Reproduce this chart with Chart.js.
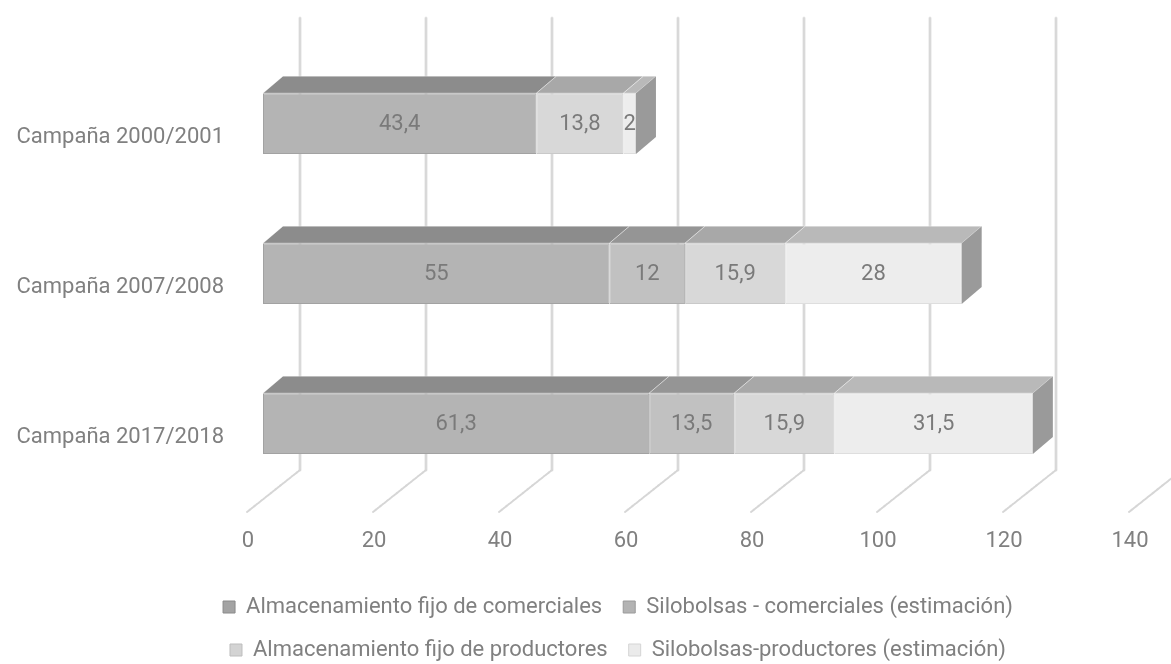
<!DOCTYPE html>
<html>
<head>
<meta charset="utf-8">
<script src="https://cdn.jsdelivr.net/npm/chart.js@4.4.1/dist/chart.umd.min.js"></script>
<style>
  html, body { margin: 0; padding: 0; background: #ffffff; }
  #wrap { width: 1171px; height: 664px; position: relative; }
</style>
</head>
<body>
<div id="wrap"><canvas id="c"></canvas></div>
<script>
// ---- data ----
const categories = ['Campaña 2000/2001', 'Campaña 2007/2008', 'Campaña 2017/2018'];
const seriesNames = [
  'Almacenamiento fijo de comerciales',
  'Silobolsas - comerciales (estimación)',
  'Almacenamiento fijo de productores',
  'Silobolsas-productores (estimación)'
];
const fijoComerciales = [43.4, 55, 61.3];
const siloComerciales = [null, 12, 13.5];
const fijoProductores = [13.8, 15.9, 15.9];
const siloProductores = [2, 28, 31.5];
const xTickValues = [0, 20, 40, 60, 80, 100, 120, 140];

// ---- styles ----
const FONT = 'Roboto';
const TEXT = '#808080';
const frontColors = ['#b4b4b4', '#c1c1c1', '#d8d8d8', '#ededed'];
const frontBorders = ['#a2a2a2', '#afafaf', '#c9c9c9', '#dedede'];
const topColors = ['#8c8c8c', '#959595', '#a8a8a8', '#b9b9b9'];
const legendFill = ['#a3a3a3', '#b3b3b3', '#d3d3d3', '#ebebeb'];
const legendStroke = ['#8a8a8a', '#9a9a9a', '#bdbdbd', '#d5d5d5'];
const SIDE = '#9a9a9a';
const DX = 20, DY = 17;      // bar depth
const WALL = 37;             // back wall offset

const seriesData = [fijoComerciales, siloComerciales, fijoProductores, siloProductores];

function fmt(v) { return String(v).replace('.', ','); }

const wallPlugin = {
  id: 'wall',
  beforeDatasetsDraw(chart) {
    const ctx = chart.ctx;
    const xs = chart.scales.x;
    ctx.save();
    xTickValues.forEach(v => {
      const xb = xs.getPixelForValue(v) + WALL;
      ctx.lineCap = 'round';
      ctx.strokeStyle = '#e4e4e4';
      ctx.lineWidth = 3;
      ctx.beginPath(); ctx.moveTo(xb, 18); ctx.lineTo(xb, 470); ctx.stroke();
      ctx.strokeStyle = '#cdcdcd';
      ctx.lineWidth = 1;
      ctx.beginPath(); ctx.moveTo(xb, 18); ctx.lineTo(xb, 470); ctx.stroke();
      ctx.strokeStyle = '#d6d6d6';
      ctx.lineWidth = 2;
      ctx.setLineDash([2, 1]);
      ctx.beginPath(); ctx.moveTo(xb, 470); ctx.lineTo(xb - 53, 512); ctx.stroke();
      ctx.setLineDash([]);
    });
    ctx.restore();
  }
};

const bar3dPlugin = {
  id: 'bar3d',
  afterDatasetsDraw(chart) {
    const ctx = chart.ctx;
    ctx.save();
    for (let i = 0; i < categories.length; i++) {
      let last = null;
      chart.data.datasets.forEach((ds, d) => {
        const v = ds.data[i];
        if (v === null || v === undefined) return;
        const el = chart.getDatasetMeta(d).data[i];
        const p = el.getProps(['x', 'base', 'y', 'height'], true);
        const x0 = Math.min(p.x, p.base), x1 = Math.max(p.x, p.base);
        const yt = p.y - p.height / 2;
        ctx.fillStyle = topColors[d];
        ctx.beginPath();
        ctx.moveTo(x0, yt); ctx.lineTo(x1, yt);
        ctx.lineTo(x1 + DX, yt - DY); ctx.lineTo(x0 + DX, yt - DY);
        ctx.closePath(); ctx.fill();
        ctx.strokeStyle = 'rgba(255,255,255,0.35)';
        ctx.lineWidth = 1;
        ctx.stroke();
        last = {x1, yt, yb: p.y + p.height / 2};
      });
      if (last) {
        ctx.fillStyle = SIDE;
        ctx.beginPath();
        ctx.moveTo(last.x1, last.yt); ctx.lineTo(last.x1 + DX, last.yt - DY);
        ctx.lineTo(last.x1 + DX, last.yb - DY); ctx.lineTo(last.x1, last.yb);
        ctx.closePath(); ctx.fill();
      }
    }
    ctx.font = '22px ' + FONT;
    ctx.fillStyle = '#7a7a7a';
    ctx.textAlign = 'center';
    ctx.textBaseline = 'middle';
    chart.data.datasets.forEach((ds, d) => {
      const meta = chart.getDatasetMeta(d);
      ds.data.forEach((v, i) => {
        if (v === null || v === undefined) return;
        const p = meta.data[i].getProps(['x', 'base', 'y'], true);
        ctx.fillText(fmt(v), (p.x + p.base) / 2, p.y + 1);
      });
    });
    ctx.restore();
  }
};

new Chart(document.getElementById('c'), {
  type: 'bar',
  data: {
    labels: categories,
    datasets: seriesData.map((arr, d) => ({
      label: seriesNames[d],
      data: arr,
      backgroundColor: frontColors[d],
      borderColor: frontBorders[d],
      borderWidth: 1,
      borderSkipped: false,
      categoryPercentage: 0.405,
      barPercentage: 1.0
    }))
  },
  options: {
    indexAxis: 'y',
    responsive: true,
    maintainAspectRatio: false,
    animation: false,
    layout: { padding: { left: 91, right: 26, top: 48.5, bottom: -7 } },
    scales: {
      x: {
        stacked: true,
        min: 0, max: 140,
        afterBuildTicks(scale) { scale.ticks = xTickValues.map(v => ({ value: v })); },
        afterFit(scale) { scale.height = 76.5; scale.paddingLeft = 0; scale.paddingRight = 0; },
        grid: { display: false, drawTicks: false },
        border: { display: false },
        ticks: {
          font: { family: FONT, size: 22 },
          color: TEXT,
          padding: 30,
          labelOffset: -15,
          maxRotation: 0,
          autoSkip: false
        }
      },
      y: {
        stacked: true,
        afterFit(scale) {
          scale.width = 172;
          scale.paddingTop = 0;
          scale.paddingBottom = 0;
          scale._computeLabelArea = () => null;  // let labels extend past the axis box
        },
        grid: { display: false, drawTicks: false },
        border: { display: false },
        ticks: {
          font: { family: FONT, size: 22 },
          color: TEXT,
          padding: 39,
          labelOffset: 14
        }
      }
    },
    plugins: {
      tooltip: { enabled: false },
      legend: {
        position: 'bottom',
        align: 'center',
        labels: {
          font: { family: FONT, size: 22 },
          color: TEXT,
          boxWidth: 12,
          boxHeight: 12,
          padding: 21,
          generateLabels(chart) {
            return chart.data.datasets.map((ds, d) => ({
              text: ds.label,
              fillStyle: legendFill[d],
              strokeStyle: legendStroke[d],
              lineWidth: 1,
              hidden: false,
              datasetIndex: d,
              fontColor: TEXT
            }));
          }
        }
      }
    }
  },
  plugins: [wallPlugin, bar3dPlugin]
});
</script>
</body>
</html>
